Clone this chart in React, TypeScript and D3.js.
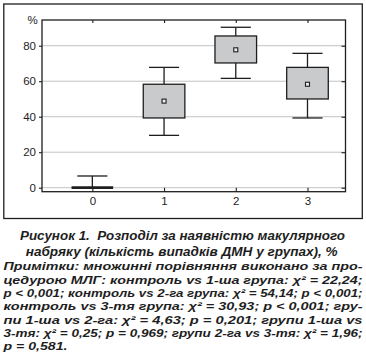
import { useEffect, useRef } from "react";
import * as d3 from "d3";

const W = 366;
const H = 363;
const PLOT = { left: 42, right: 345.5, top: 20, bottom: 191.7 };

// groups and box values (%)
const groups = [0, 1, 2, 3];
const centers = [0, 48.8, 77.7, 58.3];
const boxLow = [0, 39.3, 70.3, 50.0];
const boxHigh = [0, 58.3, 85.5, 67.8];
const whiskerLow = [0, 29.5, 61.6, 39.3];
const whiskerHigh = [6.6, 67.8, 90.4, 75.7];
const yTicks = [0, 20, 40, 60, 80];

const captionLines = [
  "Рисунок 1.  Розподіл за наявністю макулярного",
  "набряку (кількість випадків ДМН у групах), %",
];
const noteLines = [
  "Примітки: множинні порівняння виконано за про-",
  "цедурою МЛГ: контроль vs 1-ша група: χ² = 22,24;",
  "p < 0,001; контроль vs 2-га група: χ² = 54,14; p < 0,001;",
  "контроль vs 3-тя група: χ² = 30,93; p < 0,001; гру-",
  "пи 1-ша vs 2-га: χ² = 4,63; p = 0,201; групи 1-ша vs",
  "3-тя: χ² = 0,25; p = 0,969; групи 2-га vs 3-тя: χ² = 1,96;",
  "p = 0,581.",
];

const FONT = "'Liberation Sans', Arial, sans-serif";
const DARK = "#1e1e1e";

const App = () => {
  const axesRef = useRef<SVGGElement>(null);

  const x = d3.scaleLinear().domain([-0.702, 3.53]).range([PLOT.left, PLOT.right]);
  const y = d3.scaleLinear().domain([-2.25, 94.5]).range([PLOT.bottom, PLOT.top]);

  const boxHalf = x(0.29) - x(0);
  const capHalf = x(0.21) - x(0);

  useEffect(() => {
    const g = d3.select(axesRef.current);
    g.selectAll("*").remove();

    const left = d3.axisLeft(y).tickValues(yTicks).tickSize(3).tickSizeOuter(0).tickPadding(3);
    const right = d3.axisRight(y).tickValues(yTicks).tickSize(-4).tickSizeOuter(0).tickFormat(() => "");
    const bottom = d3.axisBottom(x).tickValues(groups).tickSize(-4).tickSizeOuter(0).tickPadding(5).tickFormat(d3.format("d"));
    const top = d3.axisTop(x).tickValues(groups).tickSize(-3).tickSizeOuter(0).tickFormat(() => "");

    g.append("g").attr("transform", `translate(${PLOT.left},0)`).call(left);
    g.append("g").attr("transform", `translate(${PLOT.right},0)`).call(right);
    g.append("g").attr("transform", `translate(0,${PLOT.bottom})`).call(bottom);
    g.append("g").attr("transform", `translate(0,${PLOT.top})`).call(top);

    g.selectAll(".domain").remove();
    g.selectAll("line").attr("stroke", DARK).attr("stroke-width", 1.1);
    g.selectAll("text")
      .attr("font-family", FONT)
      .attr("font-size", 11.5)
      .attr("fill", DARK);
  }, []);

  return (
    <svg width={W} height={H} style={{ position: "absolute", left: 0, top: 0, background: "#fff" }}>
      <rect x={3.8} y={4} width={358.5} height={214.5} fill="none" stroke={DARK} strokeWidth={1.3} />

      {/* grid */}
      {yTicks.map((t) => (
        <line key={t} x1={PLOT.left} x2={PLOT.right} y1={y(t)} y2={y(t)} stroke="#c2c2c2" strokeWidth={1} />
      ))}

      {/* boxes */}
      {groups.map((gv, i) => {
        const cx = x(gv);
        const y0 = y(boxHigh[i]);
        const y1 = y(boxLow[i]);
        const flat = y1 - y0 < 1;
        return (
          <g key={gv} stroke={DARK} strokeWidth={1.3}>
            <line x1={cx} x2={cx} y1={y(whiskerHigh[i])} y2={y0} />
            <line x1={cx} x2={cx} y1={y1} y2={y(whiskerLow[i])} />
            <line x1={cx - capHalf} x2={cx + capHalf} y1={y(whiskerHigh[i])} y2={y(whiskerHigh[i])} />
            <line x1={cx - capHalf} x2={cx + capHalf} y1={y(whiskerLow[i])} y2={y(whiskerLow[i])} />
            {flat ? (
              <line x1={cx - boxHalf} x2={cx + boxHalf} y1={y0} y2={y0} strokeWidth={2.7} />
            ) : (
              <>
                <rect x={cx - boxHalf} y={y0} width={boxHalf * 2} height={y1 - y0} fill="#c9cacb" />
                <rect x={cx - 2} y={y(centers[i]) - 2} width={4} height={4} fill="#ececec" strokeWidth={1.1} />
              </>
            )}
          </g>
        );
      })}

      {/* plot frame */}
      <rect x={PLOT.left} y={PLOT.top} width={PLOT.right - PLOT.left} height={PLOT.bottom - PLOT.top} fill="none" stroke={DARK} strokeWidth={1.3} />
      <g ref={axesRef} />
      <text x={37.7} y={24.3} textAnchor="end" fontFamily={FONT} fontSize={11.5} fill={DARK}>%</text>

      {/* caption */}
      <text x={20} y={240} textLength={325} lengthAdjust="spacingAndGlyphs" fontFamily={FONT} fontSize={13.5} fontWeight="bold" fontStyle="italic" fill={DARK} style={{ whiteSpace: "pre" }}>
        {captionLines[0]}
      </text>
      <text x={25.7} y={255.5} textLength={312} lengthAdjust="spacingAndGlyphs" fontFamily={FONT} fontSize={13.5} fontWeight="bold" fontStyle="italic" fill={DARK}>
        {captionLines[1]}
      </text>

      {/* notes */}
      {noteLines.map((line, i) => (
        <text
          key={i}
          x={3.5}
          y={270.3 + i * 13.3}
          textLength={i < noteLines.length - 1 ? 359 : 64}
          lengthAdjust="spacingAndGlyphs"
          fontFamily={FONT}
          fontSize={11.6}
          fontWeight="bold"
          fontStyle="italic"
          fill={DARK}
        >
          {line}
        </text>
      ))}
    </svg>
  );
};

export default App;
